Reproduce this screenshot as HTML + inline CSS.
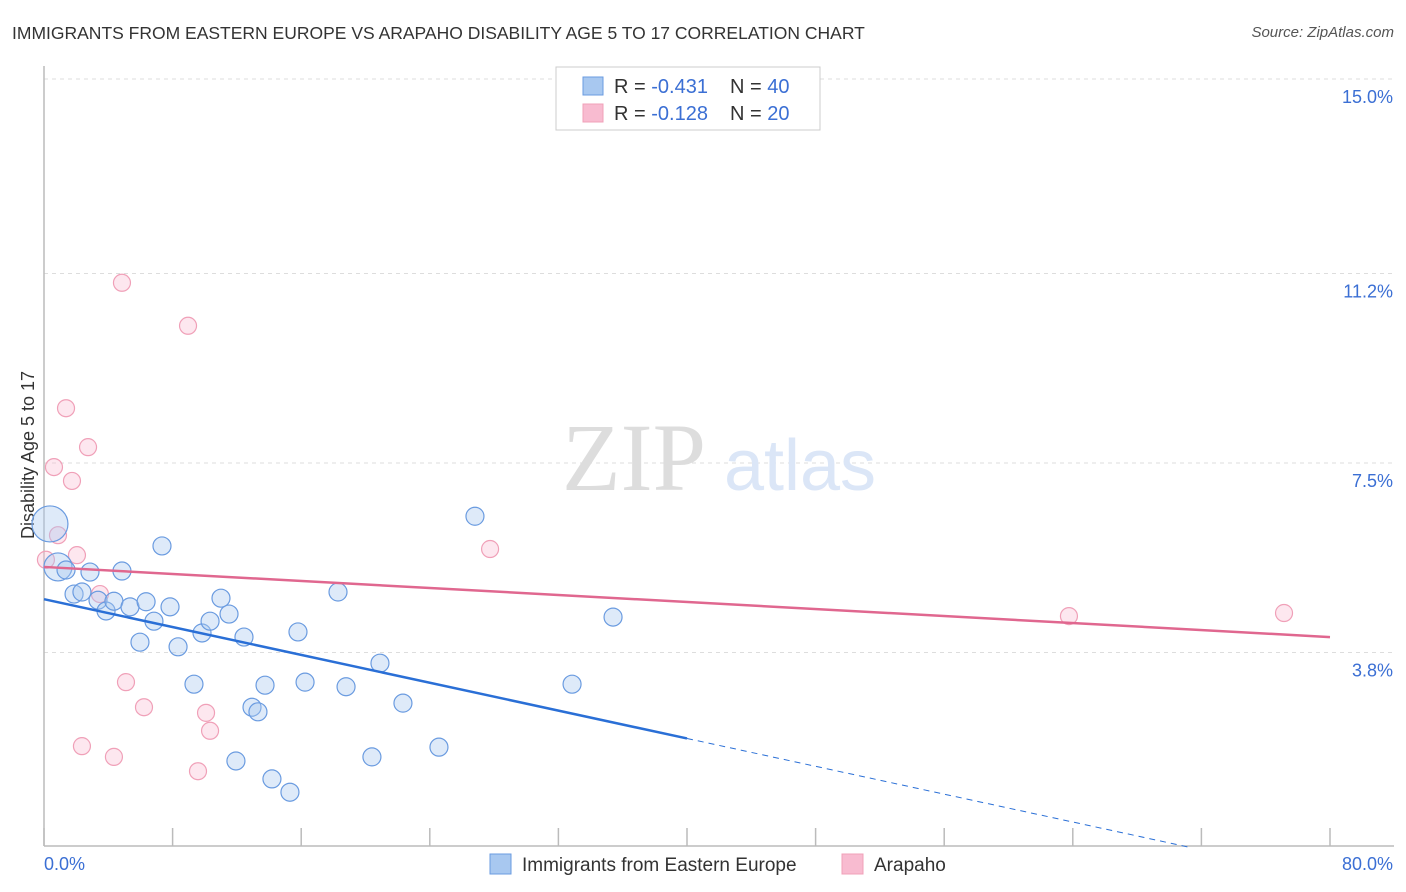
<!DOCTYPE html>
<html><head><meta charset="utf-8"><style>
body{margin:0;background:#fff;font-family:"Liberation Sans",sans-serif;}
#wrap{position:relative;width:1406px;height:892px;overflow:hidden;}
.t{position:absolute;white-space:nowrap;}
</style></head><body>
<div id="wrap">
<div class="t" style="left:12px;top:23px;font-size:17.5px;color:#333;">IMMIGRANTS FROM EASTERN EUROPE VS ARAPAHO DISABILITY AGE 5 TO 17 CORRELATION CHART</div>
<div class="t" style="right:12px;top:24px;font-size:15px;color:#555;font-style:italic;">Source: ZipAtlas.com</div>
<svg id="svg" width="1406" height="892" style="position:absolute;left:0;top:0"></svg>
</div>
<script>
const xTicks=[0,8,16,24,32,40,48,56,64,72,80];
const yTicks=[3.8,7.5,11.2,15.0];
const yTickLabels=["3.8%","7.5%","11.2%","15.0%"];
const blueX=[0.37,0.87,1.37,1.87,2.36,2.86,3.36,3.86,4.35,4.85,5.35,5.97,6.35,6.84,7.34,7.84,8.34,9.33,9.83,10.33,11.01,11.51,11.94,12.44,12.94,13.31,13.75,14.18,15.30,15.80,16.24,18.29,18.79,20.40,20.90,22.33,24.57,26.81,32.85,35.40];
const blueY=[6.31,5.47,5.41,4.94,4.98,5.37,4.82,4.61,4.80,5.39,4.69,4.00,4.79,4.41,5.88,4.69,3.91,3.18,4.18,4.41,4.86,4.55,1.68,4.10,2.73,2.64,3.16,1.33,1.07,4.20,3.22,4.98,3.13,1.76,3.59,2.81,1.95,6.46,3.18,4.49];
const blueR=[18,14,9,9,9,9,9,9,9,9,9,9,9,9,9,9,9,9,9,9,9,9,9,9,9,9,9,9,9,9,9,9,9,9,9,9,9,9,9,9];
const pinkX=[0.12,0.62,0.87,1.37,1.74,2.05,2.36,2.74,3.48,4.35,4.85,5.10,6.22,8.96,9.58,10.08,10.33,27.75,63.76,77.14];
const pinkY=[5.61,7.42,6.09,8.57,7.15,5.70,1.97,7.81,4.94,1.76,11.02,3.22,2.73,10.18,1.48,2.62,2.27,5.82,4.51,4.57];
const blueTrend=[4.84,2.12]; // at x=0 and x=40
const pinkTrend=[5.47,4.10]; // at x=0 and x=80
const X0=44,XS=16.075,Y0=847,YS=51.2;
const sx=v=>X0+v*XS, sy=v=>Y0-v*YS;
const svg=document.getElementById('svg');
const NS='http://www.w3.org/2000/svg';
function mk(tag,at){const e=document.createElementNS(NS,tag);for(const k in at)e.setAttribute(k,at[k]);svg.appendChild(e);return e;}
yTicks.forEach((v,i)=>{
 const g=mk('line',{x1:44,x2:1394,y1:sy(v),y2:sy(v),stroke:'#ddd','stroke-dasharray':'4,4'});
 
 
 const t=mk('text',{x:1393,y:sy(v)+24,'text-anchor':'end',fill:'#3b6fd4','font-size':18,'font-family':'Liberation Sans'});
 t.textContent=yTickLabels[i];
 
 
});
const ax=mk('line',{x1:44,x2:44,y1:66,y2:846,stroke:'#bbb','stroke-width':1.5});


const bx=mk('line',{x1:44,x2:1394,y1:846,y2:846,stroke:'#bbb','stroke-width':1.5});


xTicks.forEach(v=>{
 const l=mk('line',{x1:sx(v),x2:sx(v),y1:828,y2:846,stroke:'#bbb','stroke-width':1.5});
 
 
});
[[0,'0.0%',44,'start'],[80,'80.0%',1393,'end']].forEach(a=>{
 const t=mk('text',{x:a[2],y:870,'text-anchor':a[3],fill:'#3b6fd4','font-size':18,'font-family':'Liberation Sans'});
 t.textContent=a[1];
 
 
});
const yl=mk('text',{x:0,y:0,transform:'translate(34,455) rotate(-90)','text-anchor':'middle',fill:'#333','font-size':18,'font-family':'Liberation Sans'});
yl.textContent='Disability Age 5 to 17';


const w1=mk('text',{x:634,y:490,'text-anchor':'middle',fill:'#ddd','font-size':96,'font-family':'Liberation Serif'});
w1.textContent='ZIP';


const w2=mk('text',{x:800,y:490,'text-anchor':'middle',fill:'#dbe6f7','font-size':72,'font-family':'Liberation Sans'});
w2.textContent='atlas';


pinkX.forEach((x,i)=>{
 const c=mk('circle',{cx:sx(x),cy:sy(pinkY[i]),r:8.5,fill:'rgba(248,187,208,0.35)',stroke:'#f0a0b8','stroke-width':1.2});
 
 
});
blueX.forEach((x,i)=>{
 const c=mk('circle',{cx:sx(x),cy:sy(blueY[i]),r:blueR[i],fill:'rgba(168,200,240,0.38)',stroke:'#6a9be0','stroke-width':1.2});
 
 
});
const slopeB=(blueTrend[1]-blueTrend[0])/40;
const xEnd=-blueTrend[0]/slopeB;
const bl=mk('line',{x1:sx(0),y1:sy(blueTrend[0]),x2:sx(40),y2:sy(blueTrend[1]),stroke:'#2a6fd6','stroke-width':2.5});


const bd=mk('line',{x1:sx(40),y1:sy(blueTrend[1]),x2:sx(xEnd),y2:sy(0),stroke:'#2a6fd6','stroke-width':1,'stroke-dasharray':'6,5'});


const pl=mk('line',{x1:sx(0),y1:sy(pinkTrend[0]),x2:sx(80),y2:sy(pinkTrend[1]),stroke:'#e0678f','stroke-width':2.5});


const lb=mk('rect',{x:556,y:67,width:264,height:63,fill:'#fff',stroke:'#ccc'});


[['#a8c8f0','#6a9be0','-0.431','40',86],['#f8bbd0','#f0a0b8','-0.128','20',113]].forEach(r=>{
 const s=mk('rect',{x:583,y:r[4]-9,width:20,height:18,fill:r[0],stroke:r[1]});
 
 
 const t=mk('text',{x:614,y:r[4]+7,'font-size':20,fill:'#333','font-family':'Liberation Sans'});
 t.innerHTML='R = <tspan fill="#3b6fd4">'+r[2]+'</tspan><tspan x="730">N = </tspan><tspan fill="#3b6fd4">'+r[3]+'</tspan>';
 
 
});
[[490,'#a8c8f0','#6a9be0','Immigrants from Eastern Europe'],[842,'#f8bbd0','#f0a0b8','Arapaho']].forEach(r=>{
 const s=mk('rect',{x:r[0],y:854,width:21,height:20,fill:r[1],stroke:r[2]});
 
 
 const t=mk('text',{x:r[0]+32,y:871,'font-size':19,fill:'#333','font-family':'Liberation Sans'});
 t.textContent=r[3];
 
 
});
</script>
</body></html>
